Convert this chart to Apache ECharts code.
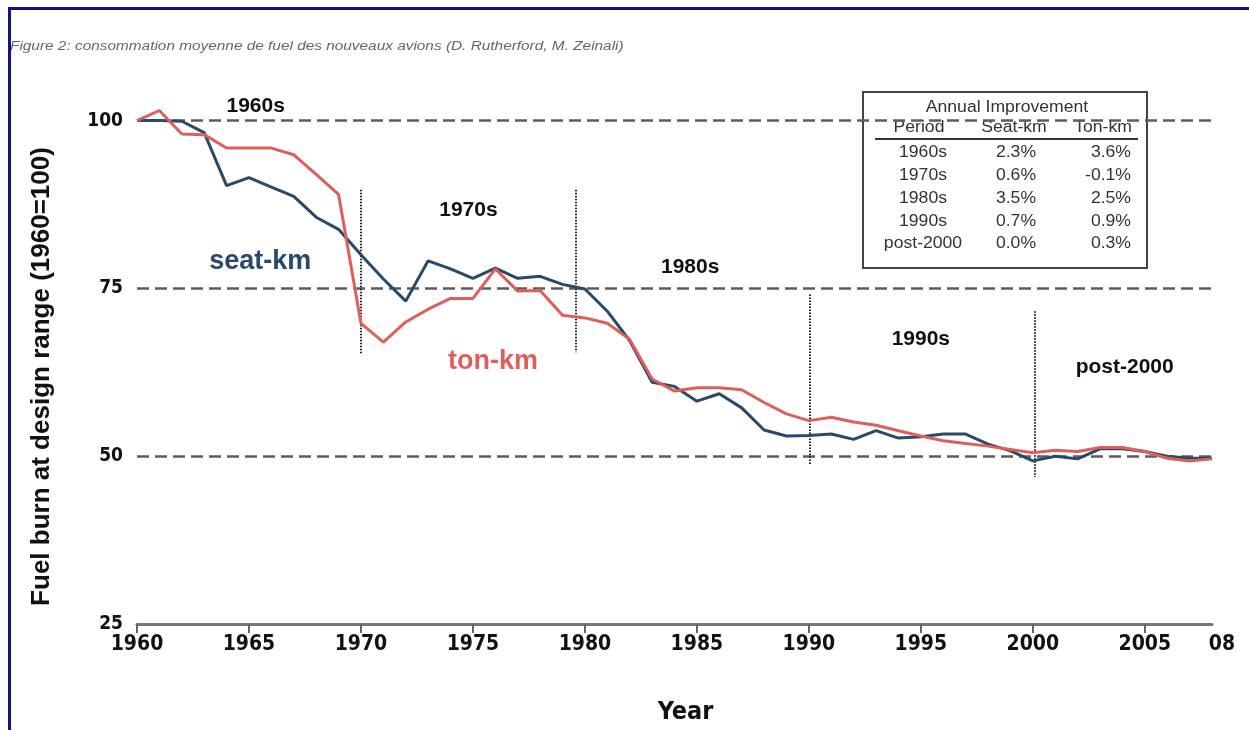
<!DOCTYPE html>
<html>
<head>
<meta charset="utf-8">
<script src="https://cdn.jsdelivr.net/npm/echarts@6/dist/echarts.min.js"></script>
<style>
  html, body { margin: 0; padding: 0; background: #fff; }
  #chart { position: absolute; left: 0; top: 0; width: 1249px; height: 730px; }
  #frame { position: absolute; left: 8px; top: 7px; width: 1241px; height: 723px;
           border-top: 3px solid #12128c; border-left: 3px solid #12128c;
           box-sizing: border-box; pointer-events: none; }
</style>
</head>
<body>
<div id="chart"></div>
<div id="frame"></div>
<script>
// Fuel burn at design range for new aircraft, indexed 1960 = 100
const years = [1960, 1961, 1962, 1963, 1964, 1965, 1966, 1967, 1968, 1969,
               1970, 1971, 1972, 1973, 1974, 1975, 1976, 1977, 1978, 1979,
               1980, 1981, 1982, 1983, 1984, 1985, 1986, 1987, 1988, 1989,
               1990, 1991, 1992, 1993, 1994, 1995, 1996, 1997, 1998, 1999,
               2000, 2001, 2002, 2003, 2004, 2005, 2006, 2007, 2008];
const seatKm = [100, 100, 99.9, 98.2, 90.3, 91.5, 90.1, 88.7, 85.6, 83.8,
                80.0, 76.4, 73.1, 79.1, 77.9, 76.5, 78.0, 76.5, 76.8, 75.6,
                74.9, 71.6, 67.2, 61.0, 60.4, 58.2, 59.3, 57.2, 53.9, 53.0,
                53.1, 53.3, 52.5, 53.8, 52.7, 52.9, 53.3, 53.3, 51.8, 50.8,
                49.3, 50.0, 49.6, 51.1, 51.1, 50.7, 50.0, 49.7, 49.7];
const tonKm = [100, 101.5, 98.0, 97.9, 95.9, 95.9, 95.9, 94.9, 92.0, 89.0,
               69.8, 67.0, 70.0, 71.9, 73.5, 73.5, 77.9, 74.6, 74.7, 71.0,
               70.6, 69.8, 67.4, 61.5, 59.7, 60.2, 60.2, 59.9, 58.0, 56.3,
               55.3, 55.8, 55.1, 54.6, 53.8, 53.0, 52.3, 51.9, 51.5, 51.0,
               50.5, 50.9, 50.7, 51.3, 51.3, 50.7, 49.7, 49.3, 49.6];

// Axis ticks and labels
const xTickYears = [1960, 1965, 1970, 1975, 1980, 1985, 1990, 1995, 2000, 2005];
const xLabelYears = [1960, 1965, 1970, 1975, 1980, 1985, 1990, 1995, 2000, 2005, 2008];
const referenceLevels = [50, 75, 100];

// Period names and where they sit on the plot
const periodNames = ['1960s', '1970s', '1980s', '1990s', 'post-2000'];
const periodNameYears = [1965.3, 1974.8, 1984.7, 1995.0, 2004.1];
const periodNameValues = [102.2, 86.6, 78.1, 67.4, 63.2];

// Dotted period dividers
const dividerYears = [1970, 1979.6, 1990.05, 2000.1];
const dividerTops = [89.7, 89.7, 74.1, 71.6];
const dividerBottoms = [65.2, 65.5, 48.8, 46.9];

// Series name labels
const seriesNames = ['seat-km', 'ton-km'];
const seriesNameYears = [1965.5, 1975.9];
const seriesNameValues = [79.0, 64.1];

// Annual improvement table
const tableTitle = 'Annual Improvement';
const tableHeaders = ['Period', 'Seat-km', 'Ton-km'];
const tablePeriods = ['1960s', '1970s', '1980s', '1990s', 'post-2000'];
const seatImprovement = ['2.3%', '0.6%', '3.5%', '0.7%', '0.0%'];
const tonImprovement = ['3.6%', '-0.1%', '2.5%', '0.9%', '0.3%'];

const caption = 'Figure 2: consommation moyenne de fuel des nouveaux avions (D. Rutherford, M. Zeinali)';

const SEAT_COLOR = '#29496a';
const TON_COLOR = '#dc5f5b';
const COND_FONT = '"DejaVu Sans Condensed", "Liberation Sans", Arial, sans-serif';
const PLAIN_FONT = '"Liberation Sans", Arial, sans-serif';

const chart = echarts.init(document.getElementById('chart'), null, { renderer: 'canvas' });

const periodMarks = periodNames.map((name, i) => ({
  coord: [periodNameYears[i], periodNameValues[i]],
  value: name,
  label: { formatter: name, color: '#111', fontSize: 21, fontWeight: 'bold', fontFamily: PLAIN_FONT }
}));

const dividerLines = dividerYears.map((yr, i) => [
  { coord: [yr, dividerTops[i]], lineStyle: { color: '#222', width: 2, type: [1.5, 1.5] } },
  { coord: [yr, dividerBottoms[i]] }
]);

// Boxed inset table
function cell(text, x, y, align) {
  return { type: 'text', x: x, y: y, scaleX: 1.1,
    style: { text: text, font: '16px ' + PLAIN_FONT, fill: '#333', textAlign: align, textVerticalAlign: 'middle' } };
}
const rowY = [153, 175.5, 198.5, 221.5, 244];
const headerX = [919, 1014, 1103];
const tableTexts = [cell(tableTitle, 1007, 108, 'center')]
  .concat(tableHeaders.map((h, i) => cell(h, headerX[i], 128, 'center')));
tablePeriods.forEach((p, i) => {
  tableTexts.push(cell(p, 923, rowY[i], 'center'));
  tableTexts.push(cell(seatImprovement[i], 1016, rowY[i], 'center'));
  tableTexts.push(cell(tonImprovement[i], 1131, rowY[i], 'right'));
});

const option = {
  animation: false,
  backgroundColor: '#ffffff',
  grid: { left: 137, right: 37, top: 87, bottom: 105 },
  xAxis: {
    type: 'value', min: 1960, max: 2008, interval: 5,
    name: 'Year', nameLocation: 'middle', nameGap: 76,
    nameTextStyle: { fontSize: 25, fontWeight: 'bold', color: '#111', fontFamily: COND_FONT, padding: [0, 0, 0, 22] },
    axisLine: { lineStyle: { color: '#777', width: 3 } },
    axisTick: { show: true, length: 9, lineStyle: { color: '#666', width: 2 }, customValues: xTickYears },
    axisLabel: {
      customValues: xLabelYears, margin: 10,
      fontSize: 21, fontWeight: 'bold', color: '#111', fontFamily: COND_FONT,
      formatter: v => (v === 2008 ? '{last|08}' : String(v)),
      rich: { last: { fontSize: 21, fontWeight: 'bold', color: '#111', fontFamily: COND_FONT, padding: [0, 0, 0, 20] } }
    },
    splitLine: { show: false }
  },
  yAxis: {
    type: 'value', min: 25, max: 105, interval: 25,
    name: 'Fuel burn at design range (1960=100)', nameLocation: 'middle', nameGap: 82,
    nameTextStyle: { fontSize: 26, fontWeight: 'bold', color: '#111', fontFamily: PLAIN_FONT, padding: [0, 42, 0, 0] },
    axisLine: { show: false },
    axisTick: { show: false },
    axisLabel: { margin: 14, fontSize: 19, fontWeight: 'bold', color: '#111', fontFamily: COND_FONT, showMaxLabel: false },
    splitLine: { show: false }
  },
  graphic: [
    { type: 'text', x: 10, y: 47, scaleX: 1.23,
      style: { text: caption, font: 'italic 12.5px ' + PLAIN_FONT, fill: '#666', textAlign: 'left', textVerticalAlign: 'middle' } },
    {
      type: 'group', z: 100,
      children: [
        { type: 'rect', shape: { x: 863, y: 92, width: 284, height: 176 },
          style: { fill: '#fff', stroke: '#444', lineWidth: 2 } },
        { type: 'line', shape: { x1: 875, y1: 139, x2: 1138, y2: 139 },
          style: { stroke: '#333', lineWidth: 2 } }
      ].concat(tableTexts)
    }
  ],
  series: [
    {
      name: 'seat-km', type: 'line', z: 3,
      data: years.map((y, i) => [y, seatKm[i]]),
      showSymbol: false, symbol: 'none',
      lineStyle: { color: SEAT_COLOR, width: 3 },
      itemStyle: { color: SEAT_COLOR },
      markLine: {
        silent: true, symbol: 'none', z: 1,
        label: { show: false },
        data: referenceLevels.map(v => ({ yAxis: v, lineStyle: { color: '#5c5c5c', width: 2.5, type: [12, 6] } }))
          .concat(dividerLines)
      },
      markPoint: {
        silent: true, symbol: 'circle', symbolSize: 0,
        label: { show: true, position: 'inside' },
        data: periodMarks.concat([{
          coord: [seriesNameYears[0], seriesNameValues[0]],
          value: seriesNames[0],
          label: { formatter: seriesNames[0], color: SEAT_COLOR, fontSize: 27, fontWeight: 'bold', fontFamily: PLAIN_FONT }
        }])
      }
    },
    {
      name: 'ton-km', type: 'line', z: 4,
      data: years.map((y, i) => [y, tonKm[i]]),
      showSymbol: false, symbol: 'none',
      lineStyle: { color: TON_COLOR, width: 3 },
      itemStyle: { color: TON_COLOR },
      markPoint: {
        silent: true, symbol: 'circle', symbolSize: 0,
        label: { show: true, position: 'inside' },
        data: [{
          coord: [seriesNameYears[1], seriesNameValues[1]],
          value: seriesNames[1],
          label: { formatter: seriesNames[1], color: TON_COLOR, fontSize: 27, fontWeight: 'bold', fontFamily: PLAIN_FONT }
        }]
      }
    }
  ]
};

chart.setOption(option);
</script>
</body>
</html>
